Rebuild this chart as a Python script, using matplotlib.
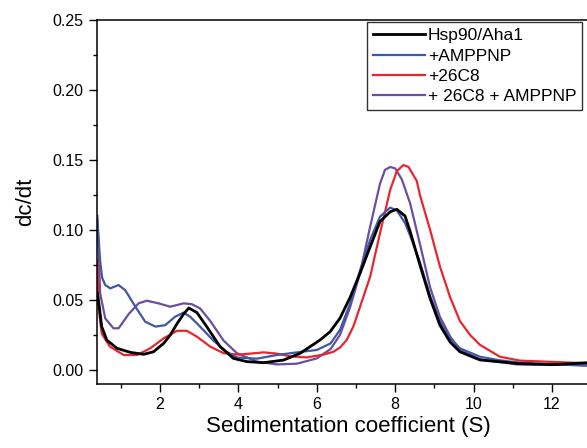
import numpy as np
import matplotlib
matplotlib.use("Agg")
import matplotlib.pyplot as plt
from matplotlib.ticker import MultipleLocator

plt.rcParams['font.family'] = ['Liberation Sans', 'DejaVu Sans']

# data (S, dc/dt)
x_black = [0.4, 0.45, 0.51, 0.64, 0.9, 1.24, 1.58, 1.83, 2.09, 2.26, 2.43, 2.6, 2.73, 2.94,
           3.19, 3.53, 3.87, 4.21, 4.64, 5.15, 5.57, 6.08, 6.34, 6.59, 6.85, 7.1, 7.36, 7.61,
           7.87, 8.04, 8.25, 8.38, 8.63, 8.89, 9.14, 9.4, 9.65, 10.16, 11.18, 12.0, 12.9]
y_black = [0.055, 0.045, 0.031, 0.0214, 0.0155, 0.0126, 0.0112, 0.013, 0.019, 0.025, 0.033,
           0.040, 0.0443, 0.041, 0.031, 0.0167, 0.0083, 0.006, 0.0052, 0.0071, 0.0119,
           0.0214, 0.0274, 0.037, 0.052, 0.069, 0.088, 0.106, 0.113, 0.1148, 0.110, 0.099,
           0.075, 0.051, 0.032, 0.020, 0.013, 0.0072, 0.0045, 0.0038, 0.0052]

x_blue = [0.4, 0.47, 0.52, 0.6, 0.73, 0.94, 1.11, 1.37, 1.62, 1.88, 2.13, 2.38, 2.6, 2.77,
          3.02, 3.36, 3.7, 3.96, 4.47, 4.98, 5.49, 6.0, 6.35, 6.59, 6.85, 7.1, 7.36, 7.61,
          7.87, 8.04, 8.25, 8.38, 8.63, 8.89, 9.14, 9.4, 9.65, 10.16, 10.67, 11.18, 12.9]
y_blue = [0.107, 0.078, 0.066, 0.0607, 0.0583, 0.0607, 0.057, 0.0452, 0.0345, 0.031, 0.032,
          0.038, 0.041, 0.038, 0.031, 0.021, 0.013, 0.0089, 0.0081, 0.0107, 0.0126, 0.0143,
          0.019, 0.0286, 0.0476, 0.071, 0.093, 0.1095, 0.116, 0.114, 0.105, 0.096, 0.077,
          0.053, 0.035, 0.0226, 0.0155, 0.0095, 0.0069, 0.0052, 0.003]

x_red = [0.4, 0.43, 0.51, 0.72, 1.07, 1.41, 1.75, 2.09, 2.43, 2.68, 2.94, 3.28, 3.62, 3.96,
         4.3, 4.64, 4.98, 5.32, 5.75, 6.17, 6.42, 6.59, 6.76, 6.93, 7.1, 7.36, 7.61, 7.87,
         8.04, 8.21, 8.34, 8.55, 8.63, 8.89, 9.14, 9.4, 9.65, 9.91, 10.16, 10.67, 11.18, 12.9]
y_red = [0.078, 0.045, 0.026, 0.0167, 0.0107, 0.0107, 0.0155, 0.0226, 0.028, 0.028, 0.0238,
         0.0167, 0.012, 0.011, 0.0117, 0.0126, 0.0117, 0.0098, 0.009, 0.011, 0.013, 0.016,
         0.0214, 0.031, 0.045, 0.0667, 0.0976, 0.1286, 0.142, 0.1464, 0.145, 0.135, 0.125,
         0.100, 0.074, 0.052, 0.035, 0.025, 0.018, 0.0095, 0.0067, 0.0048]

x_purple = [0.4, 0.47, 0.6, 0.81, 0.94, 1.2, 1.45, 1.66, 1.96, 2.26, 2.6, 2.81, 3.02, 3.28,
            3.62, 3.96, 4.47, 4.98, 5.49, 6.0, 6.35, 6.59, 6.85, 7.1, 7.36, 7.61, 7.74, 7.87,
            8.0, 8.17, 8.38, 8.63, 8.89, 9.14, 9.4, 9.65, 10.16, 11.1, 12.9]
y_purple = [0.11, 0.0548, 0.0369, 0.0298, 0.0298, 0.040, 0.0476, 0.0495, 0.0476, 0.0452,
            0.0476, 0.047, 0.044, 0.035, 0.021, 0.012, 0.006, 0.004, 0.0045, 0.0083, 0.015,
            0.025, 0.045, 0.069, 0.1024, 0.133, 0.143, 0.145, 0.144, 0.136, 0.119, 0.090,
            0.059, 0.038, 0.024, 0.0143, 0.0076, 0.004, 0.0036]

labels = ['Hsp90/Aha1', '+AMPPNP', '+26C8', '+ 26C8 + AMPPNP']

fig = plt.figure(figsize=(5.87, 4.48), dpi=100)
# axes runs past the right edge of the image, like the cropped original
ax = fig.add_axes([97/587, 64/448, 503/587, 364/448])

lp, = ax.plot(x_purple, y_purple, color='#6a4ea0', lw=1.6)
lr, = ax.plot(x_red, y_red, color='#e8262d', lw=1.6)
lb, = ax.plot(x_blue, y_blue, color='#3f58a6', lw=1.6)
lk, = ax.plot(x_black, y_black, color='black', lw=2.0)

ax.set_xlim(0.39, 2 + (600 - 160) / 39.2)
ax.set_ylim(-0.01, 0.25)
ax.xaxis.set_major_locator(MultipleLocator(2))
ax.xaxis.set_minor_locator(MultipleLocator(1))
ax.yaxis.set_major_locator(MultipleLocator(0.05))
ax.yaxis.set_minor_locator(MultipleLocator(0.025))
ax.yaxis.set_major_formatter(plt.FormatStrFormatter('%.2f'))
ax.tick_params(which='major', direction='out', length=6, width=1, labelsize=11.5)
ax.tick_params(which='minor', direction='out', length=3, width=1)
ax.spines['right'].set_visible(False)
for s in ['left', 'bottom', 'top']:
    ax.spines[s].set_linewidth(1.1)

ax.set_xlabel('Sedimentation coefficient (S)', fontsize=16, labelpad=3)
ax.set_ylabel('dc/dt', fontsize=16, labelpad=12)

leg = ax.legend([lk, lb, lr, lp], labels, loc='upper left',
                bbox_to_anchor=((367 - 97) / 503, (384 - 22) / 364),
                fontsize=12.5, frameon=True, fancybox=False, handlelength=3.0,
                borderpad=0.35, labelspacing=0.3, handletextpad=0.15, borderaxespad=0)
leg.get_frame().set_edgecolor('black')
leg.get_frame().set_linewidth(1.0)

fig.savefig('out.png', dpi=100)
